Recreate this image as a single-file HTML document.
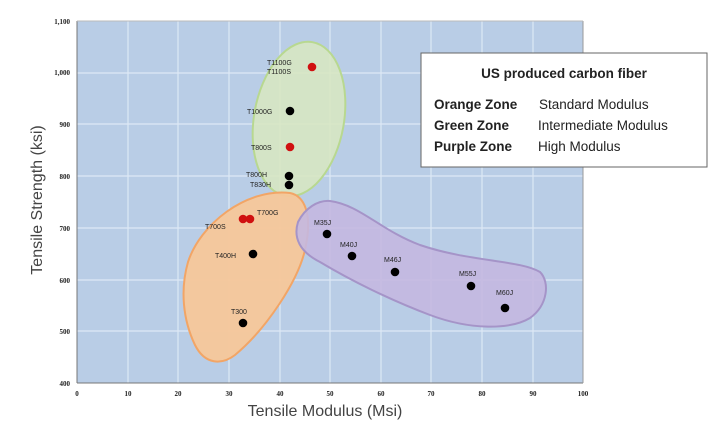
<!DOCTYPE html>
<html><head><meta charset="utf-8"><style>
html,body{margin:0;padding:0;background:#fff;width:720px;height:424px;overflow:hidden}
svg{display:block}
.t{font-family:"Liberation Sans",sans-serif;font-size:7px;fill:#222}
.k{font-family:"Liberation Serif",serif;font-size:7px;font-weight:bold;fill:#222}
</style></head><body>
<svg width="720" height="424" viewBox="0 0 720 424">
<rect x="77" y="21" width="506" height="362" fill="#b9cde6"/>
<g stroke="#dde8f5" stroke-width="1.2">
<line x1="128" y1="21" x2="128" y2="383"/><line x1="178" y1="21" x2="178" y2="383"/>
<line x1="229" y1="21" x2="229" y2="383"/><line x1="280" y1="21" x2="280" y2="383"/>
<line x1="330" y1="21" x2="330" y2="383"/><line x1="381" y1="21" x2="381" y2="383"/>
<line x1="431" y1="21" x2="431" y2="383"/><line x1="482" y1="21" x2="482" y2="383"/>
<line x1="533" y1="21" x2="533" y2="383"/>
<line x1="77" y1="73" x2="583" y2="73"/><line x1="77" y1="124" x2="583" y2="124"/>
<line x1="77" y1="176" x2="583" y2="176"/><line x1="77" y1="228" x2="583" y2="228"/>
<line x1="77" y1="280" x2="583" y2="280"/><line x1="77" y1="331" x2="583" y2="331"/>
</g>
<line x1="77" y1="21" x2="77" y2="383" stroke="#777"/>
<line x1="77" y1="383" x2="583" y2="383" stroke="#777"/>
<line x1="583" y1="21" x2="583" y2="383" stroke="#999"/>
<line x1="77" y1="21" x2="583" y2="21" stroke="#bbb"/>
<!-- zones -->
<ellipse cx="299" cy="119" rx="45" ry="78" transform="rotate(10 299 119)" fill="#d8e8c0" fill-opacity="0.85" stroke="#b8d890" stroke-width="2"/>
<path d="M290,193 C305,196 312,215 306,245 C300,280 265,330 235,355 C222,365 205,365 195,345 C183,320 180,290 188,262 C200,225 245,188 290,193 Z" fill="#f5c79a" fill-opacity="0.95" stroke="#f2a566" stroke-width="2"/>
<path d="M330,201 C360,205 380,230 420,245 C470,262 520,260 540,272 C550,282 548,305 530,318 C510,330 470,330 430,315 C390,300 350,280 320,262 C300,252 293,238 298,222 C305,208 318,200 330,201 Z" fill="#c4b8e0" fill-opacity="0.9" stroke="#a594c8" stroke-width="2"/>
<!-- points -->
<g fill="#000">
<circle cx="290" cy="111" r="4.3"/><circle cx="289" cy="176" r="4.3"/><circle cx="289" cy="185" r="4.3"/>
<circle cx="253" cy="254" r="4.3"/><circle cx="243" cy="323" r="4.3"/>
<circle cx="327" cy="234" r="4.3"/><circle cx="352" cy="256" r="4.3"/><circle cx="395" cy="272" r="4.3"/>
<circle cx="471" cy="286" r="4.3"/><circle cx="505" cy="308" r="4.3"/>
</g>
<g fill="#d01010">
<circle cx="312" cy="67" r="4.3"/><circle cx="290" cy="147" r="4.3"/>
<circle cx="243" cy="219" r="4.3"/><circle cx="250" cy="219" r="4.3"/>
</g>
<g class="t">
<text x="267" y="65">T1100G</text><text x="267" y="74">T1100S</text>
<text x="247" y="114">T1000G</text><text x="251" y="150">T800S</text>
<text x="246" y="177">T800H</text><text x="250" y="187">T830H</text>
<text x="257" y="215">T700G</text><text x="205" y="229">T700S</text>
<text x="215" y="258">T400H</text><text x="231" y="314">T300</text>
<text x="314" y="225">M35J</text><text x="340" y="247">M40J</text>
<text x="384" y="262">M46J</text><text x="459" y="276">M55J</text>
<text x="496" y="295">M60J</text>
</g>
<g class="k" text-anchor="end">
<text x="70" y="24">1,100</text><text x="70" y="75">1,000</text><text x="70" y="127">900</text>
<text x="70" y="179">800</text><text x="70" y="231">700</text><text x="70" y="283">600</text>
<text x="70" y="334">500</text><text x="70" y="386">400</text>
</g>
<g class="k" text-anchor="middle">
<text x="77" y="396">0</text><text x="128" y="396">10</text><text x="178" y="396">20</text>
<text x="229" y="396">30</text><text x="280" y="396">40</text><text x="330" y="396">50</text>
<text x="381" y="396">60</text><text x="431" y="396">70</text><text x="482" y="396">80</text>
<text x="533" y="396">90</text><text x="583" y="396">100</text>
</g>
<text x="325" y="416" text-anchor="middle" font-family="Liberation Sans,sans-serif" font-size="16" fill="#444">Tensile Modulus (Msi)</text>
<text transform="translate(42,200) rotate(-90)" text-anchor="middle" font-family="Liberation Sans,sans-serif" font-size="16" fill="#444">Tensile Strength (ksi)</text>
<!-- legend -->
<rect x="421" y="53" width="286" height="114" fill="#fff" stroke="#666" stroke-width="1"/>
<g font-family="Liberation Sans,sans-serif" font-size="13.5" fill="#222">
<text x="564" y="78" text-anchor="middle" font-weight="bold">US produced carbon fiber</text>
<text x="434" y="109" font-weight="bold">Orange Zone</text><text x="539" y="109">Standard Modulus</text>
<text x="434" y="130" font-weight="bold">Green Zone</text><text x="538" y="130">Intermediate Modulus</text>
<text x="434" y="151" font-weight="bold">Purple Zone</text><text x="538" y="151">High Modulus</text>
</g>
</svg>
</body></html>
